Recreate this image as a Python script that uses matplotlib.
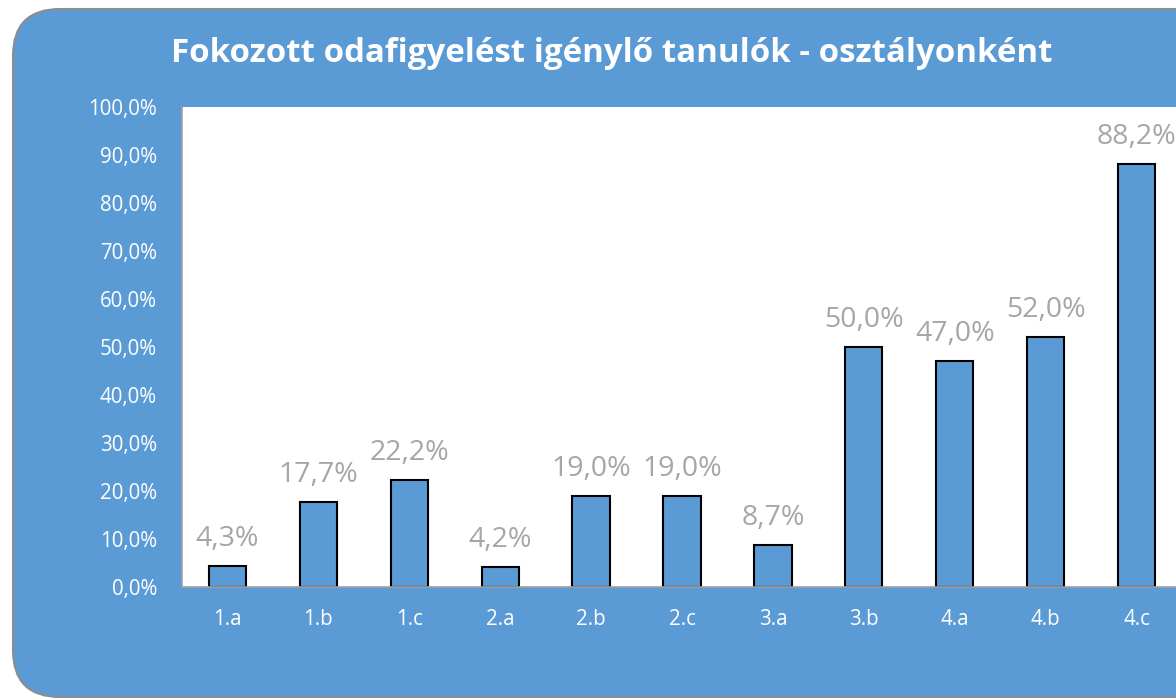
import matplotlib.pyplot as plt
from matplotlib.patches import FancyBboxPatch
import numpy as np

plt.rcParams["font.family"] = ["Open Sans", "DejaVu Sans"]

classes = ["1.a", "1.b", "1.c", "2.a", "2.b", "2.c", "3.a", "3.b", "4.a", "4.b", "4.c"]
values = [4.3, 17.7, 22.2, 4.2, 19.0, 19.0, 8.7, 50.0, 47.0, 52.0, 88.2]
y_ticks = [0, 10, 20, 30, 40, 50, 60, 70, 80, 90, 100]

blue = "#5B9BD5"
label_gray = "#A6A6A6"

fig = plt.figure(figsize=(11.76, 7.0), dpi=100)
fig.patch.set_facecolor("white")

# rounded blue background (right side runs off the picture)
W, H = 1176.0, 700.0
bg = FancyBboxPatch((13 / W, 3 / H), (1230 - 13) / W, (694 - 6) / H,
                    boxstyle="round,pad=0,rounding_size=0.04",
                    transform=fig.transFigure, facecolor=blue,
                    edgecolor="#8C8C8C", linewidth=1.5,
                    mutation_aspect=W / H, zorder=-10)
fig.patches.append(bg)

ax = fig.add_axes([182 / W, 1 - 587 / H, (1182 - 182) / W, (587 - 107) / H])
ax.set_zorder(5)
ax.set_facecolor("white")

x = np.arange(len(classes))
bars = ax.bar(x, values, width=0.41, color=blue, edgecolor="black", linewidth=1.5, zorder=2)

for xi, v in zip(x, values):
    ax.annotate(f"{v:.1f}%".replace(".", ","), (xi, v), xytext=(0, 14.5),
                textcoords="offset points", ha="center", va="baseline",
                color=label_gray, fontsize=20.5, annotation_clip=False)

ax.set_xlim(-0.5, len(classes) - 0.5)
ax.set_ylim(0, 100)
ax.set_yticks(y_ticks)
ax.set_yticklabels([f"{t:.1f}%".replace(".", ",") for t in y_ticks])
ax.set_xticks(x)
ax.set_xticklabels(classes)
ax.tick_params(axis="both", length=0, colors="white", labelsize=14.8)
ax.tick_params(axis="y", pad=18)
ax.tick_params(axis="x", pad=16)

for side in ["top", "right"]:
    ax.spines[side].set_visible(False)
for side in ["left", "bottom"]:
    ax.spines[side].set_color("#A0A0A0")
    ax.spines[side].set_linewidth(1.2)

fig.text(612 / W, 1 - 53 / H, "Fokozott odafigyelést igénylő tanulók - osztályonként",
         ha="center", va="center", color="white", fontsize=23.8, fontweight="bold")

fig.savefig("out.png", dpi=100)
